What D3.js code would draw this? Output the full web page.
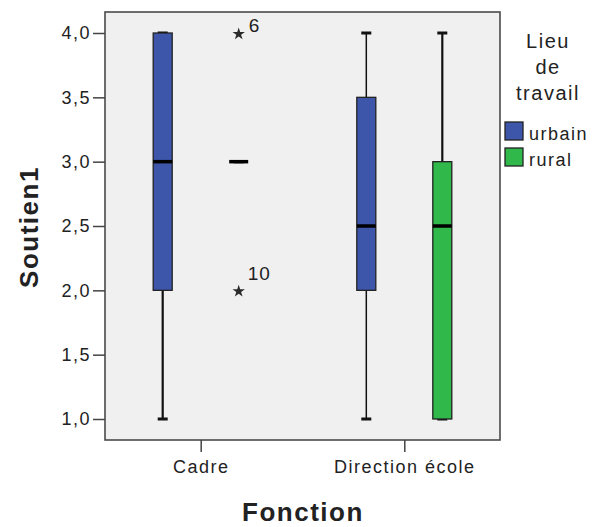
<!DOCTYPE html>
<head>
<meta charset="utf-8">
<style>
body { margin: 0; background: #fff; }
text { font-family: Arial, "Liberation Sans", sans-serif; fill: #222; letter-spacing: 1.5px; }
</style>
</head>
<body>
<script src="https://cdn.jsdelivr.net/npm/d3@7"></script>
<script>

// categories and groups
var fonctions = ["Cadre", "Direction école"];
var lieux = ["urbain", "rural"];
var colors = ["#3d56aa", "#30b84a"];

// box stats per fonction x lieu: [min, q1, median, q3, max]
var cadreStats = [[1, 2, 3, 4, 4], [3, 3, 3, 3, 3]];
var directionStats = [[1, 2, 2.5, 3.5, 4], [1, 1, 2.5, 3, 4]];

// extreme outliers (Cadre, rural)
var outlierValues = [4, 2];
var outlierLabels = ["6", "10"];

var yTicks = [1, 1.5, 2, 2.5, 3, 3.5, 4];

var W = 600, H = 527;
var plot = {left: 105, top: 12, right: 500, bottom: 440};

var svg = d3.select("body").append("svg")
    .attr("width", W)
    .attr("height", H);

var x = d3.scalePoint().domain(fonctions).range([plot.left, plot.right]).padding(0.47);
var y = d3.scaleLinear().domain([1, 4]).range([419, 33]);
var offset = d3.scalePoint().domain(lieux).range([-38, 38]);

// plot background
svg.append("rect")
    .attr("x", plot.left).attr("y", plot.top)
    .attr("width", plot.right - plot.left).attr("height", plot.bottom - plot.top)
    .attr("fill", "#f0f0f0")
    .attr("stroke", "#4a4a4a").attr("stroke-width", 1.6);

// axes
var yAxis = svg.append("g")
    .attr("transform", "translate(" + plot.left + ",0)")
    .call(d3.axisLeft(y).tickValues(yTicks).tickSize(12).tickPadding(2)
      .tickFormat(function(d) { return d3.format(".1f")(d).replace(".", ","); }));
yAxis.select(".domain").remove();
yAxis.selectAll("line").attr("stroke", "#444").attr("stroke-width", 1.5);
yAxis.selectAll("text").style("font-size", "18px").attr("fill", "#333");

var xAxis = svg.append("g")
    .attr("transform", "translate(0," + plot.bottom + ")")
    .call(d3.axisBottom(x).tickSize(12).tickPadding(8));
xAxis.select(".domain").remove();
xAxis.selectAll("line").attr("stroke", "#444").attr("stroke-width", 1.5);
xAxis.selectAll("text").style("font-size", "18px").attr("fill", "#333");

// boxes
var allStats = [cadreStats, directionStats];
var boxW = 19, capW = 10;

fonctions.forEach(function(f, i) {
  lieux.forEach(function(l, j) {
    var s = allStats[i][j];
    var cx = x(f) + offset(l);
    var g = svg.append("g");
    // whisker
    g.append("line")
        .attr("x1", cx).attr("x2", cx)
        .attr("y1", y(s[0])).attr("y2", y(s[4]))
        .attr("stroke", "#111").attr("stroke-width", (i === 1 && j === 0) ? 1.5 : 2.2);
    [s[0], s[4]].forEach(function(v) {
      g.append("line")
          .attr("x1", cx - capW / 2).attr("x2", cx + capW / 2)
          .attr("y1", y(v)).attr("y2", y(v))
          .attr("stroke", "#111").attr("stroke-width", 3);
    });
    // box
    if (s[3] > s[1]) {
      g.append("rect")
          .attr("x", cx - boxW / 2).attr("y", y(s[3]))
          .attr("width", boxW).attr("height", y(s[1]) - y(s[3]))
          .attr("fill", colors[j]).attr("stroke", "#222").attr("stroke-width", 1.3);
    }
    // median
    g.append("line")
        .attr("x1", cx - boxW / 2).attr("x2", cx + boxW / 2)
        .attr("y1", y(s[2])).attr("y2", y(s[2]))
        .attr("stroke", "#000").attr("stroke-width", 3.5);
  });
});

// outliers (extreme values shown as stars)
var ocx = x("Cadre") + offset("rural");
var star = d3.symbol().type(d3.symbolStar).size(48);
outlierValues.forEach(function(v, i) {
  svg.append("path")
      .attr("transform", "translate(" + ocx + "," + (y(v) + 1) + ")")
      .attr("d", star)
      .attr("fill", "#2a2a2a");
  svg.append("text")
      .attr("x", ocx + (i === 0 ? 10 : 9)).attr("y", y(v) - (i === 0 ? 1 : 10))
      .style("font-size", "19px")
      .style("letter-spacing", "1px")
      .text(outlierLabels[i]);
});

// axis titles
svg.append("text")
    .attr("transform", "translate(38,227) rotate(-90)")
    .attr("text-anchor", "middle")
    .style("font-size", "26px").style("font-weight", "bold")
    .attr("fill", "#111")
    .text("Soutien1");

svg.append("text")
    .attr("x", 303).attr("y", 521)
    .attr("text-anchor", "middle")
    .style("font-size", "26px").style("font-weight", "bold")
    .attr("fill", "#111")
    .text("Fonction");

// legend
var legTitle = ["Lieu", "de", "travail"];
legTitle.forEach(function(t, i) {
  svg.append("text")
      .attr("x", 548).attr("y", 48 + i * 26)
      .attr("text-anchor", "middle")
      .style("font-size", "20px")
      .text(t);
});
lieux.forEach(function(l, j) {
  svg.append("rect")
      .attr("x", 505).attr("y", 122 + j * 26)
      .attr("width", 18).attr("height", 18)
      .attr("fill", colors[j]).attr("stroke", "#222").attr("stroke-width", 1.3);
  svg.append("text")
      .attr("x", 529).attr("y", 140 + j * 26)
      .style("font-size", "18px")
      .text(l);
});

</script>
</body>
